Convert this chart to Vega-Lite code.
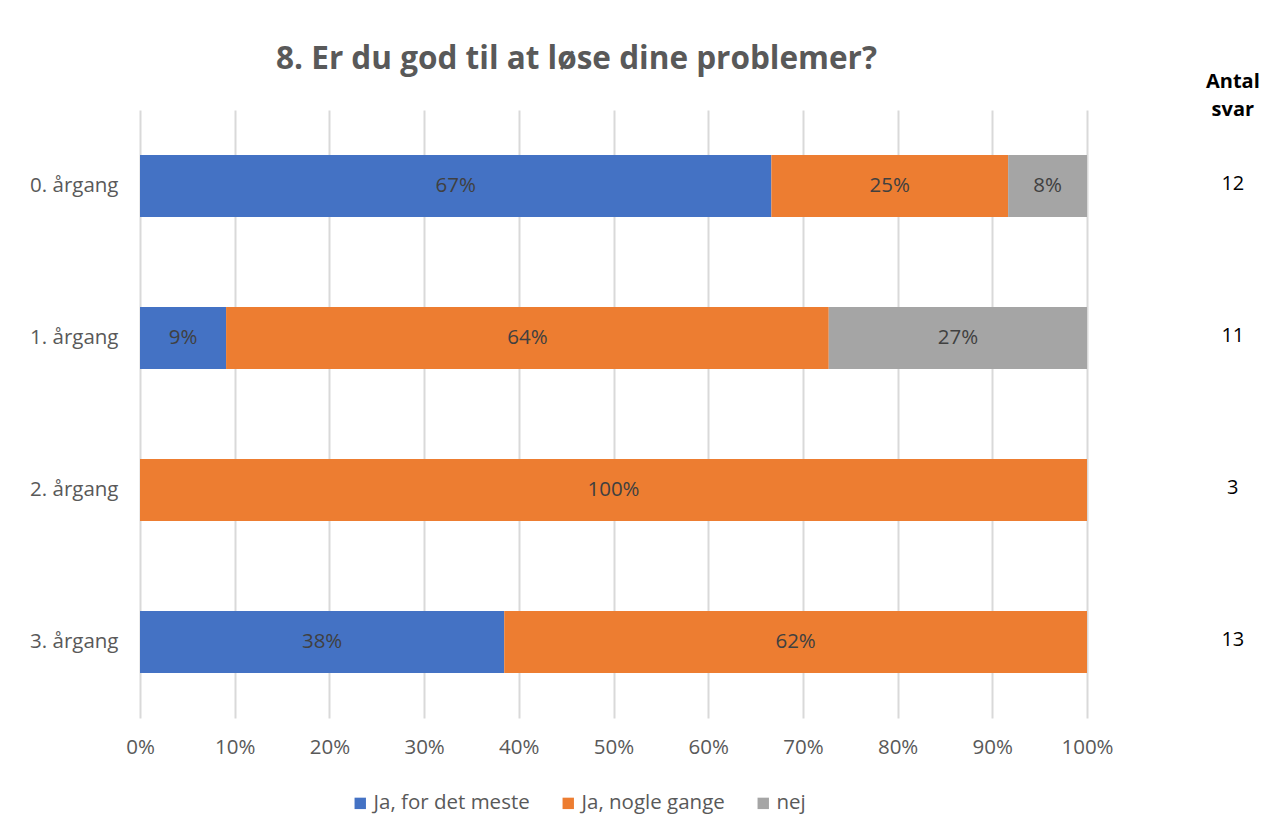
{
  "$schema": "https://vega.github.io/schema/vega-lite/v6.json",
  "width": 947,
  "height": 608,
  "autosize": {"type": "none"},
  "padding": {"left": 140, "top": 110, "right": 179, "bottom": 116},
  "background": "white",
  "title": {
    "text": "8. Er du god til at løse dine problemer?",
    "font": "Open Sans",
    "fontSize": 31.5,
    "fontWeight": "bold",
    "color": "#595959",
    "anchor": "middle",
    "dx": -37,
    "offset": -3
  },
  "config": {
    "view": {"stroke": null},
    "font": "Open Sans",
    "axis": {"labelFont": "Open Sans", "labelFontSize": 20.5, "labelColor": "#595959"}
  },
  "datasets": {
    "bars": [
      {"aargang": "0. årgang", "svar": "Ja, for det meste", "ord": 1, "andel": 0.6667},
      {"aargang": "0. årgang", "svar": "Ja, nogle gange", "ord": 2, "andel": 0.25},
      {"aargang": "0. årgang", "svar": "nej", "ord": 3, "andel": 0.0833},
      {"aargang": "1. årgang", "svar": "Ja, for det meste", "ord": 1, "andel": 0.0909},
      {"aargang": "1. årgang", "svar": "Ja, nogle gange", "ord": 2, "andel": 0.6364},
      {"aargang": "1. årgang", "svar": "nej", "ord": 3, "andel": 0.2727},
      {"aargang": "2. årgang", "svar": "Ja, nogle gange", "ord": 2, "andel": 1.0},
      {"aargang": "3. årgang", "svar": "Ja, for det meste", "ord": 1, "andel": 0.3846},
      {"aargang": "3. årgang", "svar": "Ja, nogle gange", "ord": 2, "andel": 0.6154}
    ],
    "antal": [
      {"aargang": "0. årgang", "n": 12},
      {"aargang": "1. årgang", "n": 11},
      {"aargang": "2. årgang", "n": 3},
      {"aargang": "3. årgang", "n": 13}
    ],
    "head": [{"aargang": "0. årgang", "label": "Antal\nsvar"}]
  },
  "layer": [
    {
      "data": {"name": "bars"},
      "transform": [
        {"stack": "andel", "groupby": ["aargang"], "sort": [{"field": "ord", "order": "ascending"}], "as": ["x0", "x1"]},
        {"calculate": "(datum.x0 + datum.x1) / 2", "as": "xm"}
      ],
      "layer": [
        {
          "mark": {"type": "bar"},
          "encoding": {
            "y": {
              "field": "aargang", "type": "nominal",
              "scale": {"paddingInner": 0.592, "paddingOuter": 0.296},
              "axis": {"title": null, "domain": false, "ticks": false, "labelPadding": 22}
            },
            "x": {
              "field": "x0", "type": "quantitative",
              "scale": {"domain": [0, 1], "nice": false},
              "axis": {
                "title": null, "format": ".0%", "values": [0, 0.1, 0.2, 0.3, 0.4, 0.5, 0.6, 0.7, 0.8, 0.9, 1],
                "labelOverlap": false, "labelFlush": false,
                "domain": false, "ticks": false, "labelPadding": 19,
                "grid": true, "gridColor": "#d9d9d9", "gridWidth": 2
              }
            },
            "x2": {"field": "x1"},
            "color": {
              "field": "svar", "type": "nominal",
              "scale": {"domain": ["Ja, for det meste", "Ja, nogle gange", "nej"], "range": ["#4472C4", "#ED7D31", "#A5A5A5"]},
              "legend": {
                "title": null, "orient": "none", "direction": "horizontal",
                "legendX": 210, "legendY": 683,
                "symbolType": "square", "symbolSize": 130, "symbolStrokeWidth": 0,
                "labelFont": "Open Sans", "labelFontSize": 20.5, "labelColor": "#595959",
                "labelOffset": 3, "columnPadding": 28
              }
            }
          }
        },
        {
          "mark": {"type": "text", "font": "Open Sans", "fontSize": 20.5, "color": "#404040"},
          "encoding": {
            "y": {"field": "aargang", "type": "nominal"},
            "x": {"field": "xm", "type": "quantitative"},
            "text": {"field": "andel", "type": "quantitative", "format": ".0%"}
          }
        }
      ]
    },
    {
      "data": {"name": "antal"},
      "mark": {"type": "text", "font": "Open Sans", "fontSize": 20, "color": "#000000", "dy": -2},
      "encoding": {
        "y": {"field": "aargang", "type": "nominal"},
        "x": {"datum": 1.154, "type": "quantitative"},
        "text": {"field": "n", "type": "quantitative"}
      }
    },
    {
      "data": {"name": "head"},
      "mark": {"type": "text", "font": "Open Sans", "fontSize": 20, "fontWeight": "bold", "color": "#000000", "lineBreak": "\n", "lineHeight": 28, "dy": -104},
      "encoding": {
        "y": {"field": "aargang", "type": "nominal"},
        "x": {"datum": 1.154, "type": "quantitative"},
        "text": {"field": "label"}
      }
    }
  ]
}
